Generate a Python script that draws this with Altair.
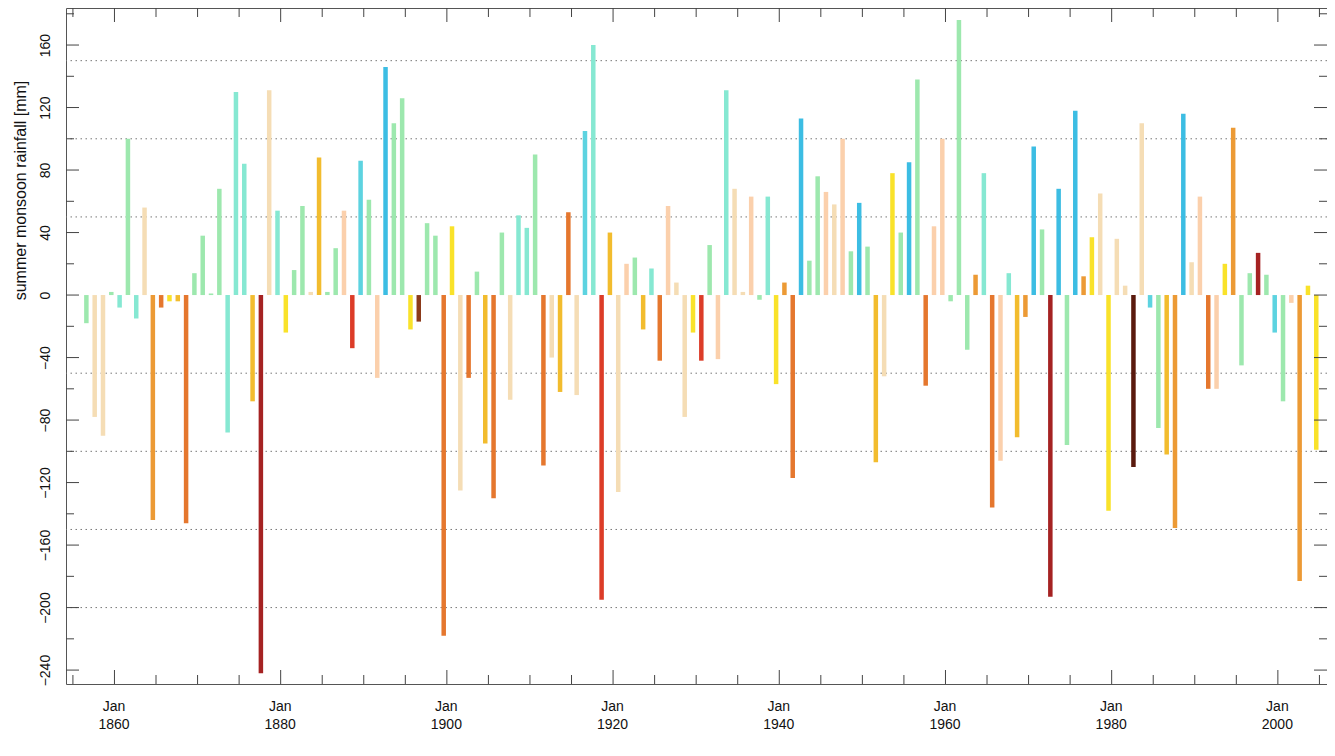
import altair as alt
import pandas as pd

# ---- data ----
years = list(range(1856, 2005))

rain_mm = [
    -18, -78, -90, 2, -8, 100, -15, 56, -144, -8,          # 1856-1865
    -4, -4, -146, 14, 38, 1, 68, -88, 130, 84,             # 1866-1875
    -68, -242, 131, 54, -24, 16, 57, 2, 88, 2,             # 1876-1885
    30, 54, -34, 86, 61, -53, 146, 110, 126, -22,          # 1886-1895
    -17, 46, 38, -218, 44, -125, -53, 15, -95, -130,       # 1896-1905
    40, -67, 51, 43, 90, -109, -40, -62, 53, -64,          # 1906-1915
    105, 160, -195, 40, -126, 20, 24, -22, 17, -42,        # 1916-1925
    57, 8, -78, -24, -42, 32, -41, 131, 68, 2,             # 1926-1935
    63, -3, 63, -57, 8, -117, 113, 22, 76, 66,             # 1936-1945
    58, 100, 28, 59, 31, -107, -52, 78, 40, 85,            # 1946-1955
    138, -58, 44, 100, -4, 176, -35, 13, 78, -136,         # 1956-1965
    -106, 14, -91, -14, 95, 42, -193, 68, -96, 118,        # 1966-1975
    12, 37, 65, -138, 36, 6, -110, 110, -8, -85,           # 1976-1985
    -102, -149, 116, 21, 63, -60, -60, 20, 107, -45,       # 1986-1995
    14, 27, 13, -24, -68, -5, -183, 6, -99,                # 1996-2004
]

# colour class of every bar (index into class_colors)
bar_class = [
    10, 8, 8, 10, 11, 10, 11, 8, 5, 4,
    7, 6, 4, 10, 10, 10, 10, 11, 11, 11,
    6, 1, 8, 11, 7, 10, 10, 8, 6, 10,
    10, 9, 3, 12, 10, 9, 13, 10, 10, 7,
    2, 10, 10, 4, 7, 8, 4, 10, 6, 4,
    10, 8, 11, 11, 10, 4, 8, 6, 4, 8,
    12, 11, 3, 6, 8, 9, 10, 6, 11, 4,
    9, 8, 8, 7, 3, 10, 9, 11, 8, 8,
    9, 10, 11, 7, 5, 4, 13, 10, 10, 9,
    8, 9, 10, 13, 10, 6, 8, 7, 10, 13,
    10, 4, 9, 9, 10, 10, 10, 5, 11, 4,
    9, 11, 6, 5, 13, 10, 1, 13, 10, 13,
    5, 7, 8, 7, 8, 8, 0, 8, 12, 10,
    6, 5, 13, 8, 9, 4, 9, 7, 5, 10,
    10, 1, 10, 12, 10, 9, 5, 7, 7,
]

class_colors = [
    "#5A1A0E", "#A52222", "#8B3A1A", "#DC3C28", "#E5772E", "#EC9A35",
    "#F2BC2E", "#F9E22A", "#F5DDB5", "#FBD0AC", "#9DE8AE", "#86E8D2",
    "#5DD3E0", "#3CBDE3",
]

y_label_values = [-240, -200, -160, -120, -80, -40, 0, 40, 80, 120, 160]
y_tick_values = list(range(-240, 181, 20))
grid_values = [-200, -150, -100, -50, 50, 100, 150]
x_label_years = [1860, 1880, 1900, 1920, 1940, 1960, 1980, 2000]
x_tick_years = list(range(1855, 2006, 5))

assert len(years) == len(rain_mm) == len(bar_class)

df = pd.DataFrame({"year": years, "rain": rain_mm, "cls": bar_class})

W, H = 1261, 676
FONT = "Liberation Sans"
x_scale = alt.Scale(domain=[1854.77, 2005.31], nice=False, zero=False)
y_scale = alt.Scale(domain=[-248.9, 183.7], nice=False, zero=False)

x_axis = alt.Axis(
    values=x_label_years,
    labelExpr="['Jan', format(datum.value, 'd')]",
    ticks=False, domain=False, grid=False, title=None,
    labelPadding=15, labelLineHeight=18, labelFontSize=14, labelFont=FONT,
    labelColor="#111111", labelAngle=0, labelAlign="center", labelBaseline="top",
    labelOffset=-1, labelFlush=False, labelOverlap=False,
)
y_axis = alt.Axis(
    values=y_label_values,
    ticks=False, tickSize=0, domain=False, grid=False,
    labelAngle=270, labelAlign="center", labelBaseline="middle",
    labelPadding=21, labelFontSize=14, labelFont=FONT, labelColor="#111111",
    labelOverlap=False, labelFlush=False,
    title="summer monsoon rainfall [mm]", titleFont=FONT, titleFontSize=16,
    titleFontWeight="normal", titleColor="#111111", titleAngle=270,
    titleAlign="center", titleBaseline="middle", titleX=-46, titleY=182,
)

bars = (
    alt.Chart(df)
    .transform_calculate(pos="datum.year + 0.62")
    .mark_bar(size=4.5)
    .encode(
        x=alt.X("pos:Q", scale=x_scale, axis=x_axis),
        y=alt.Y("rain:Q", scale=y_scale, stack=None, axis=y_axis),
        color=alt.Color("cls:O", scale=alt.Scale(domain=list(range(len(class_colors))),
                                                 range=class_colors), legend=None),
    )
)

grid_df = pd.DataFrame({"rain": grid_values})
grid = alt.Chart(grid_df).mark_rule(color="#777777", strokeWidth=1, strokeDash=[1.5, 3.5]).encode(
    y=alt.Y("rain:Q", scale=y_scale)
)

xt = pd.DataFrame({"pos": x_tick_years})
xt["major"] = xt["pos"] % 20 == 0
xt_major = xt[xt["major"]]
xt_minor = xt[~xt["major"]]

yt = pd.DataFrame({"rain": y_tick_values})
yt["major"] = yt["rain"] % 40 == 0
yt_major = yt[yt["major"]]
yt_minor = yt[~yt["major"]]

TICK = dict(color="#444444", strokeWidth=1)

def xticks(d, top, length):
    if top:
        y0, y1 = 0, length
    else:
        y0, y1 = H, H - length
    return alt.Chart(d).mark_rule(**TICK).encode(
        x=alt.X("pos:Q", scale=x_scale), y=alt.value(y0), y2=alt.value(y1)
    )

def yticks(d, left, length):
    if left:
        x0, x1 = 0, length
    else:
        x0, x1 = W, W - length
    return alt.Chart(d).mark_rule(**TICK).encode(
        y=alt.Y("rain:Q", scale=y_scale), x=alt.value(x0), x2=alt.value(x1)
    )

chart = alt.layer(
    grid,
    bars,
    xticks(xt_major, True, 14), xticks(xt_minor, True, 9),
    xticks(xt_major, False, 14), xticks(xt_minor, False, 9),
    yticks(yt_major, True, 13), yticks(yt_minor, True, 8),
    yticks(yt_major, False, 13), yticks(yt_minor, False, 8),
).properties(
    width=W, height=H,
    padding={"left": 58, "top": 0, "right": 0, "bottom": 50},
    autosize=alt.AutoSizeParams(type="none"),
    background="white",
).configure_view(stroke="#555555", strokeWidth=1)

chart.save("out.html", embed_options={"renderer": "svg", "actions": False})
